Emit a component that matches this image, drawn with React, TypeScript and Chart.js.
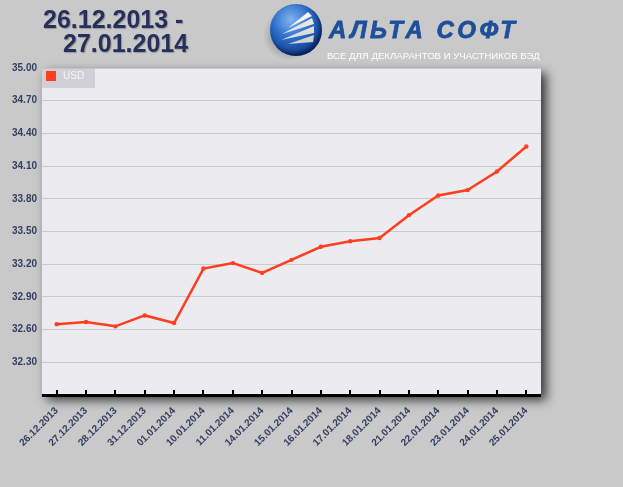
import React, { useEffect, useRef } from "react";
import { Chart, registerables } from "chart.js";

Chart.register(...registerables);

const categories = [
  "26.12.2013", "27.12.2013", "28.12.2013", "31.12.2013", "01.01.2014",
  "10.01.2014", "11.01.2014", "14.01.2014", "15.01.2014", "16.01.2014",
  "17.01.2014", "18.01.2014", "21.01.2014", "22.01.2014", "23.01.2014",
  "24.01.2014", "25.01.2014",
];
const usdValues = [
  32.65, 32.67, 32.63, 32.73, 32.66,
  33.16, 33.21, 33.12, 33.24, 33.36,
  33.41, 33.44, 33.65, 33.83, 33.88,
  34.05, 34.28,
];
const seriesName = "USD";
const yMin = 32;
const yMax = 35;
const yStep = 0.3;
const titleLines = ["26.12.2013 -", "27.01.2014"];
const brandName = "АЛЬТА СОФТ";
const brandSlogan = "ВСЕ ДЛЯ ДЕКЛАРАНТОВ И УЧАСТНИКОВ ВЭД";

const PAGE_BG = "#c9c9c9";
const PLOT_BG = "#ececf0";
const LINE_COLOR = "#ff3d1f";
const LABEL_COLOR = "#353d60";

const plotDecor = {
  id: "plotDecor",
  beforeDraw(chart: any) {
    const { ctx, chartArea: a } = chart;
    ctx.save();
    ctx.shadowColor = "rgba(0,0,0,0.75)";
    ctx.shadowBlur = 10;
    ctx.shadowOffsetX = 5;
    ctx.shadowOffsetY = 5;
    ctx.fillStyle = PLOT_BG;
    ctx.fillRect(a.left, a.top, a.right - a.left, a.bottom - a.top);
    ctx.restore();
  },
  afterDraw(chart: any) {
    const { ctx, chartArea: a, scales } = chart;
    const x = scales.x;
    ctx.save();
    ctx.fillStyle = "#000";
    ctx.fillRect(a.left, a.bottom - 1, a.right - a.left, 3);
    for (let i = 0; i < categories.length; i++) {
      const px = Math.round(x.getPixelForValue(i));
      ctx.fillRect(px - 1, a.bottom - 5, 2, 5);
    }
    ctx.fillStyle = "rgba(190,190,196,0.6)";
    ctx.fillRect(a.left, a.top, 53, 20);
    ctx.fillStyle = LINE_COLOR;
    ctx.fillRect(a.left + 4, a.top + 3, 10, 10);
    ctx.fillStyle = "#f6f6f6";
    ctx.font = "10px 'Liberation Sans', Arial, sans-serif";
    ctx.textBaseline = "middle";
    ctx.textAlign = "left";
    ctx.fillText(seriesName, a.left + 21, a.top + 8.5);
    ctx.restore();
  },
};

function Logo() {
  return (
    <div style={{ position: "absolute", left: 268, top: 2, width: 56, height: 54 }}>
      <div
        style={{
          position: "absolute", left: -6, top: 8, width: 54, height: 50, borderRadius: "50%",
          background: "radial-gradient(circle, rgba(80,80,80,0.45) 30%, rgba(80,80,80,0) 70%)",
        }}
      />
      <div
        style={{
          position: "absolute", left: 2, top: 2, width: 52, height: 52, borderRadius: "50%",
          background: "radial-gradient(circle at 40% 30%, #7fb4f0 0%, #2a6cc8 40%, #123f8f 75%, #0a2560 100%)",
          boxShadow: "inset -2px -3px 4px rgba(0,0,30,0.5)",
        }}
      />
      <svg width={56} height={56} style={{ position: "absolute", left: 0, top: 0 }}>
        <polygon points="40,10 44,14 20,26" fill="#f4f4f4" />
        <polygon points="44,16 46,22 14,32" fill="#e6e6e6" />
        <polygon points="46,24 46,31 13,38" fill="#dcdcdc" />
        <polygon points="46,33 45,40 20,42" fill="#d2d2d2" />
      </svg>
    </div>
  );
}

export default function App() {
  const canvasRef = useRef<HTMLCanvasElement | null>(null);

  useEffect(() => {
    document.body.style.margin = "0";
    const canvas = canvasRef.current;
    if (!canvas) return;
    const chart = new Chart(canvas, {
      type: "line",
      data: {
        labels: categories,
        datasets: [
          {
            label: seriesName,
            data: usdValues,
            borderColor: LINE_COLOR,
            backgroundColor: LINE_COLOR,
            borderWidth: 2.5,
            pointRadius: 2.2,
            pointBorderWidth: 0,
            pointBackgroundColor: LINE_COLOR,
            tension: 0,
          },
        ],
      },
      options: {
        responsive: false,
        animation: false,
        layout: { padding: { left: 0, top: 68, right: 82, bottom: 0 } },
        plugins: {
          legend: { display: false },
          tooltip: { enabled: false },
        },
        scales: {
          x: {
            offset: true,
            grid: { display: false },
            border: { display: false },
            ticks: {
              autoSkip: false,
              minRotation: 45,
              maxRotation: 45,
              padding: 2,
              color: LABEL_COLOR,
              font: { family: "'Liberation Sans', Arial, sans-serif", size: 10, weight: "bold" },
            },
            afterFit(scale: any) {
              scale.height = 92;
            },
          },
          y: {
            min: yMin,
            max: yMax,
            grid: { color: "#c9c9d0", lineWidth: 1, drawTicks: false },
            border: { display: false },
            ticks: {
              stepSize: yStep,
              padding: 5,
              color: LABEL_COLOR,
              font: { family: "'Liberation Sans', Arial, sans-serif", size: 10, weight: "bold" },
              callback: (v: any) => (Math.abs(Number(v) - yMin) < 1e-6 ? "" : Number(v).toFixed(2)),
            },
            afterFit(scale: any) {
              scale.width = 42;
            },
          },
        },
      },
      plugins: [plotDecor],
    });
    return () => chart.destroy();
  }, []);

  return (
    <div
      style={{
        position: "relative", width: 623, height: 487, background: PAGE_BG, overflow: "hidden",
        fontFamily: "'Liberation Sans', Arial, sans-serif",
      }}
    >
      <canvas ref={canvasRef} width={623} height={487} style={{ position: "absolute", left: 0, top: 0 }} />
      <div
        style={{
          position: "absolute", left: 43, top: 7, color: "#25315a", fontSize: 25, fontWeight: "bold",
          lineHeight: "24px", textShadow: "1px 1px 1px rgba(0,0,0,0.25)", whiteSpace: "nowrap",
        }}
      >
        <div>{titleLines[0]}</div>
        <div style={{ paddingLeft: 20 }}>{titleLines[1]}</div>
      </div>
      <Logo />
      <div
        style={{
          position: "absolute", left: 329, top: 15, color: "#1d4f9a", fontSize: 24, fontWeight: "bold",
          fontStyle: "italic", letterSpacing: 3.5, whiteSpace: "nowrap", lineHeight: "30px",
          WebkitTextStroke: "0.8px #1d4f9a",
        }}
      >
        {brandName}
      </div>
      <div
        style={{
          position: "absolute", left: 327, top: 49, color: "#ffffff", fontSize: 9.6,
          whiteSpace: "nowrap", lineHeight: "14px",
        }}
      >
        {brandSlogan}
      </div>
    </div>
  );
}
